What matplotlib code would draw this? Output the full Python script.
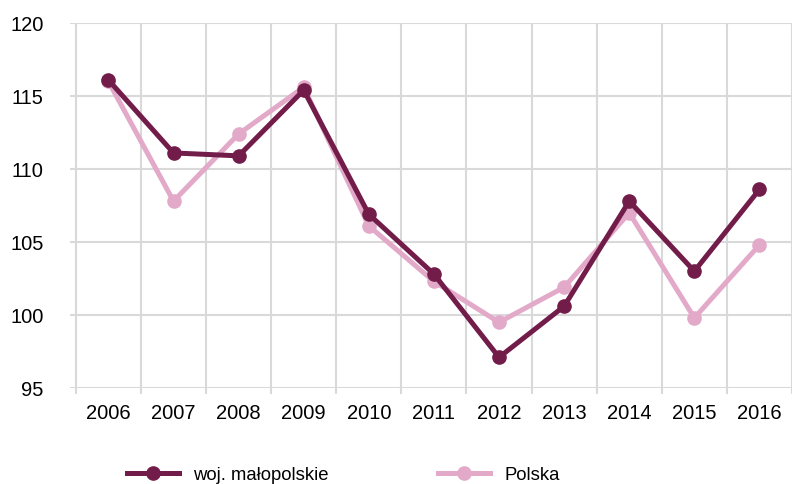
import numpy as np
import matplotlib
matplotlib.use("Agg")
import matplotlib.pyplot as plt

plt.rcParams['font.family'] = ['Liberation Sans', 'DejaVu Sans']

# index values
years = ['2006', '2007', '2008', '2009', '2010', '2011',
         '2012', '2013', '2014', '2015', '2016']
malopolskie = [116.1, 111.1, 110.9, 115.4, 106.9, 102.8,
               97.1, 100.6, 107.8, 103.0, 108.6]
polska = [116.0, 107.8, 112.4, 115.6, 106.1, 102.3,
          99.5, 101.9, 107.0, 99.8, 104.8]

dark = '#721C4A'
pink = '#E3A9C9'
grid = '#D9D9D9'

fig = plt.figure(figsize=(7.92, 4.85), dpi=100)
ax = fig.add_axes([70/792, 1-389/485, 1-70/792, (389-24)/485])

x = np.arange(len(years))
ax.plot(x, polska, '-o', color=pink, lw=3.6, ms=9.5, label='Polska', zorder=3)
ax.plot(x, malopolskie, '-o', color=dark, lw=3.6, ms=9.5,
        label='woj. małopolskie', zorder=4)

ax.set_ylim(95, 120)
ax.set_yticks(np.arange(95, 121, 5))
ax.set_xlim(-0.59, 10.32)
ax.set_xticks(x)
ax.set_xticklabels(years)
ax.set_xticks(np.arange(len(years) + 1) - 0.5, minor=True)

for s in ax.spines.values():
    s.set_visible(False)
ax.grid(axis='y', color=grid, lw=1.5, zorder=0)
ax.grid(axis='x', which='minor', color=grid, lw=1.5, zorder=0)
ax.tick_params(axis='y', length=0, pad=19, labelsize=14.5)
ax.tick_params(axis='x', which='major', length=0, pad=11, labelsize=14.5)
ax.tick_params(axis='x', which='minor', length=4.5, width=1.5, color=grid,
               direction='out')
ax.set_axisbelow(True)

h, l = ax.get_legend_handles_labels()
fig.legend(h[::-1], l[::-1], loc='center left',
           bbox_to_anchor=(127/792, 1-476/485), ncol=2, frameon=False,
           fontsize=13.3, numpoints=1, handlelength=2.8, handletextpad=0.8,
           columnspacing=5.9, borderpad=0, borderaxespad=0)

fig.savefig('out.png', dpi=100)
